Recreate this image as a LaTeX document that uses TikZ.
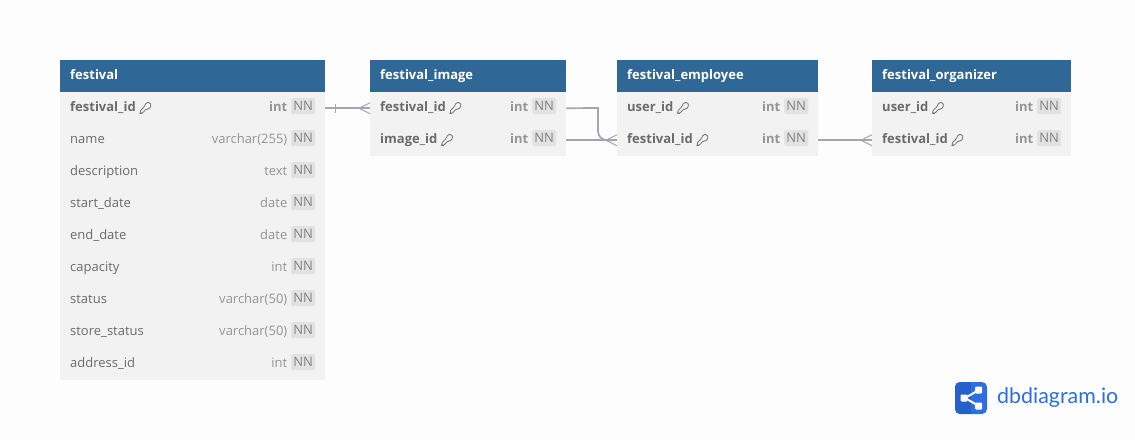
\documentclass[tikz,border=0pt]{standalone}
\usepackage{fontspec}
\setmainfont{Open Sans}
\newfontfamily\logofont{Lato}
\usetikzlibrary{positioning}
\definecolor{headblue}{HTML}{2F6896}
\definecolor{rowgray}{HTML}{F2F2F2}
\definecolor{badgegray}{HTML}{E2E2E2}
\definecolor{pagegray}{HTML}{FDFDFD}
\definecolor{relgray}{HTML}{A4A4B2}
\definecolor{logoblue}{HTML}{2D6FE0}
\definecolor{logodark}{HTML}{2560CC}
\tikzset{
	tablehead/.style={fill=headblue, text=white, font=\fontsize{13}{15}\bfseries\selectfont, minimum height=32pt, anchor=north west, inner sep=0pt, inner xsep=10pt, text height=10pt, text depth=3pt, align=left},
	tablerow/.style={fill=rowgray, minimum height=32pt, anchor=north west, inner sep=0pt},
	colname/.style={text=black!58, inner sep=0pt, text height=10pt, text depth=3pt},
	coltype/.style={text=black!42, inner sep=0pt, text height=10pt, text depth=3pt},
	nnbadge/.style={fill=badgegray, rounded corners=1.5pt, font=\fontsize{13}{15}\selectfont, text=black!50, inner sep=0pt, minimum width=24pt, minimum height=16pt, text height=9.5pt, text depth=.5pt, yshift=2pt},
	relline/.style={draw=relgray, line width=1.7pt},
	dbkey/.pic={
		\draw[black!55, line width=.8pt, rounded corners=1.2pt] (.8,-5.6) -- (4.6,-5.6) -- (5.8,-2.4) -- (3.2,1) -- (1,.6) -- (-3.4,5.2) -- (-5.4,5.2) -- (-5.4,2.8) -- (-1.2,-1.4) -- cycle;
	},
}
% one table: node prefix, left, width, title, rows name/type/kind
\newcommand{\dbtable}[5]{
	\node[tablehead, minimum width=#3pt, text width=#3pt-20pt] (#1-head) at (#2,60) {#4};
	\foreach \colname/\coltype/\colweight [count=\i, evaluate=\i as \rowtop using {60+32*\i}] in {#5} {
		\node[tablerow, minimum width=#3pt] (#1-\i) at (#2,\rowtop) {};
		\node[colname, right=10pt of #1-\i.west, font=\fontsize{13}{15}\colweight\selectfont] (#1-\i-name) {\colname};
		\node[nnbadge, left=10pt of #1-\i.east] (#1-\i-nn) {NN};
		\node[coltype, left=3.5pt of #1-\i-nn, yshift=-2pt, font=\fontsize{13}{15}\colweight\selectfont] (#1-\i-type) {\coltype};
	}
}
\begin{document}
\begin{tikzpicture}[x=1pt, y=-1pt]
	\useasboundingbox[fill=pagegray] (0,0) rectangle (1135,440);

	\dbtable{festival}{60}{265}{festival}{festival\_id/int/\bfseries, name/varchar(255)/, description/text/, start\_date/date/, end\_date/date/, capacity/int/, status/varchar(50)/, store\_status/varchar(50)/, address\_id/int/}
	\dbtable{image}{370}{196}{festival\_image}{festival\_id/int/\bfseries, image\_id/int/\bfseries}
	\dbtable{employee}{617}{201}{festival\_employee}{user\_id/int/\bfseries, festival\_id/int/\bfseries}
	\dbtable{organizer}{872}{199}{festival\_organizer}{user\_id/int/\bfseries, festival\_id/int/\bfseries}

	\foreach \keyname in {festival-1, image-1, image-2, employee-1, employee-2, organizer-1, organizer-2}
		\pic at ([xshift=9.5pt]\keyname-name.east) {dbkey};

	% relations
	\coordinate (bend) at (598,108);
	\draw[relline] (festival-1.east) -- (image-1.west);
	\draw[relline] (image-1.east) -- (bend) [rounded corners=9pt] |- (employee-2.west);
	\draw[relline] (image-2.east) -- (employee-2.west);
	\draw[relline] (employee-2.east) -- (organizer-2.west);
	\draw[relgray, line width=1pt] ([xshift=10pt]festival-1.east) ++(0,-4.5) -- ++(0,9);
	\foreach \tablerel in {image-1, employee-2, organizer-2}
		\draw[relgray, line width=1pt] (\tablerel.west) ++(0,-5.5) -- ++(-11,5.5) -- ++(11,5.5);

	% logo
	\fill[logoblue, rounded corners=5pt] (955,382) rectangle (987,414) node[midway] (logo) {};
	\begin{scope}
		\clip[rounded corners=5pt] (955,382) rectangle (987,414);
		\fill[logodark] (955,382) rectangle (971,414);
	\end{scope}
	\draw[white, line width=2pt] (978,390.5) -- (965,398) -- (978,405.5);
	\fill[white, rounded corners=1pt] (975,386.5) rectangle (982,393.5);
	\fill[white, rounded corners=1pt] (975,402.5) rectangle (982,409.5);
	\fill[white, rounded corners=1pt] (960.5,394.5) rectangle (967.5,401.5);
	\node[font=\logofont\fontsize{21.4}{24}\selectfont, text=logoblue, inner sep=0pt, anchor=west, xshift=26pt] (logotext) at (logo.center) {dbdiagram.io};
\end{tikzpicture}
\end{document}
